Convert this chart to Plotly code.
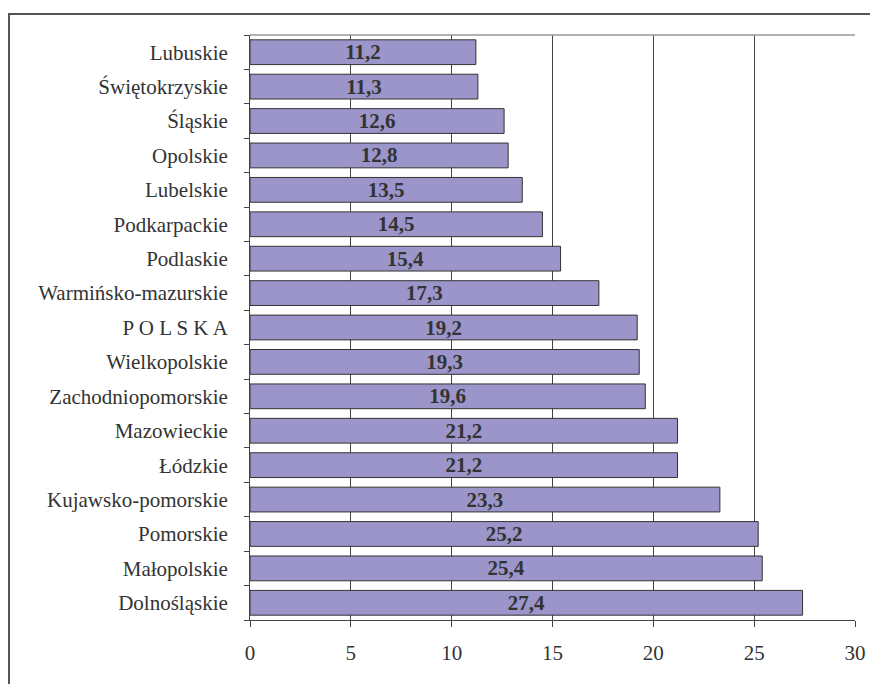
import plotly.graph_objects as go

categories = ["Dolnośląskie", "Małopolskie", "Pomorskie", "Kujawsko-pomorskie", "Łódzkie",
              "Mazowieckie", "Zachodniopomorskie", "Wielkopolskie", "P O L S K A",
              "Warmińsko-mazurskie", "Podlaskie", "Podkarpackie", "Lubelskie", "Opolskie",
              "Śląskie", "Świętokrzyskie", "Lubuskie"]
values = [27.4, 25.4, 25.2, 23.3, 21.2, 21.2, 19.6, 19.3, 19.2, 17.3, 15.4, 14.5, 13.5,
          12.8, 12.6, 11.3, 11.2]
x_ticks = [0, 5, 10, 15, 20, 25, 30]

labels = [f"{v:.1f}".replace(".", ",") for v in values]

fig = go.Figure(go.Bar(
    y=categories, x=values, orientation="h",
    marker=dict(color="#9B95C9", line=dict(color="#333333", width=1)),
    width=0.72,
    text=labels, textposition="inside", insidetextanchor="middle", textangle=0,
    constraintext="none",
    textfont=dict(family="Liberation Serif", size=21, color="#333333", weight="bold"),
    hoverinfo="skip",
))

# page has an 8px body margin: figure is shifted by 8px, so sizes compensate
fig.update_layout(
    width=870, height=676,
    margin=dict(l=242, r=23, t=27, b=64),
    paper_bgcolor="white", plot_bgcolor="white",
    showlegend=False,
    font=dict(family="Liberation Serif", size=21, color="#333333"),
    xaxis=dict(range=[0, 30], tickvals=x_ticks, showgrid=True, gridcolor="#444444",
               gridwidth=1, zeroline=False, showline=True, linecolor="#444444", linewidth=1,
               ticks="outside", ticklen=6, tickcolor="#444444", ticklabelstandoff=8,
               tickfont=dict(family="Liberation Serif", size=21, color="#333333")),
    yaxis=dict(categoryorder="array", categoryarray=categories, showgrid=False,
               showline=True, linecolor="#444444", linewidth=1,
               ticks="outside", ticklen=5, tickcolor="#444444", tickson="boundaries",
               ticklabelstandoff=17,
               tickfont=dict(family="Liberation Serif", size=21, color="#333333")),
    shapes=[
        dict(type="line", xref="paper", yref="paper", x0=0, x1=1, y0=1, y1=1,
             line=dict(color="#999999", width=1.5)),
        dict(type="rect", xref="paper", yref="paper", x0=(1 - 242) / 605, x1=1.2,
             y0=-0.3, y1=1 + (27 - 6) / 585, line=dict(color="#555555", width=2)),
    ],
)

fig.write_html("out.html")
